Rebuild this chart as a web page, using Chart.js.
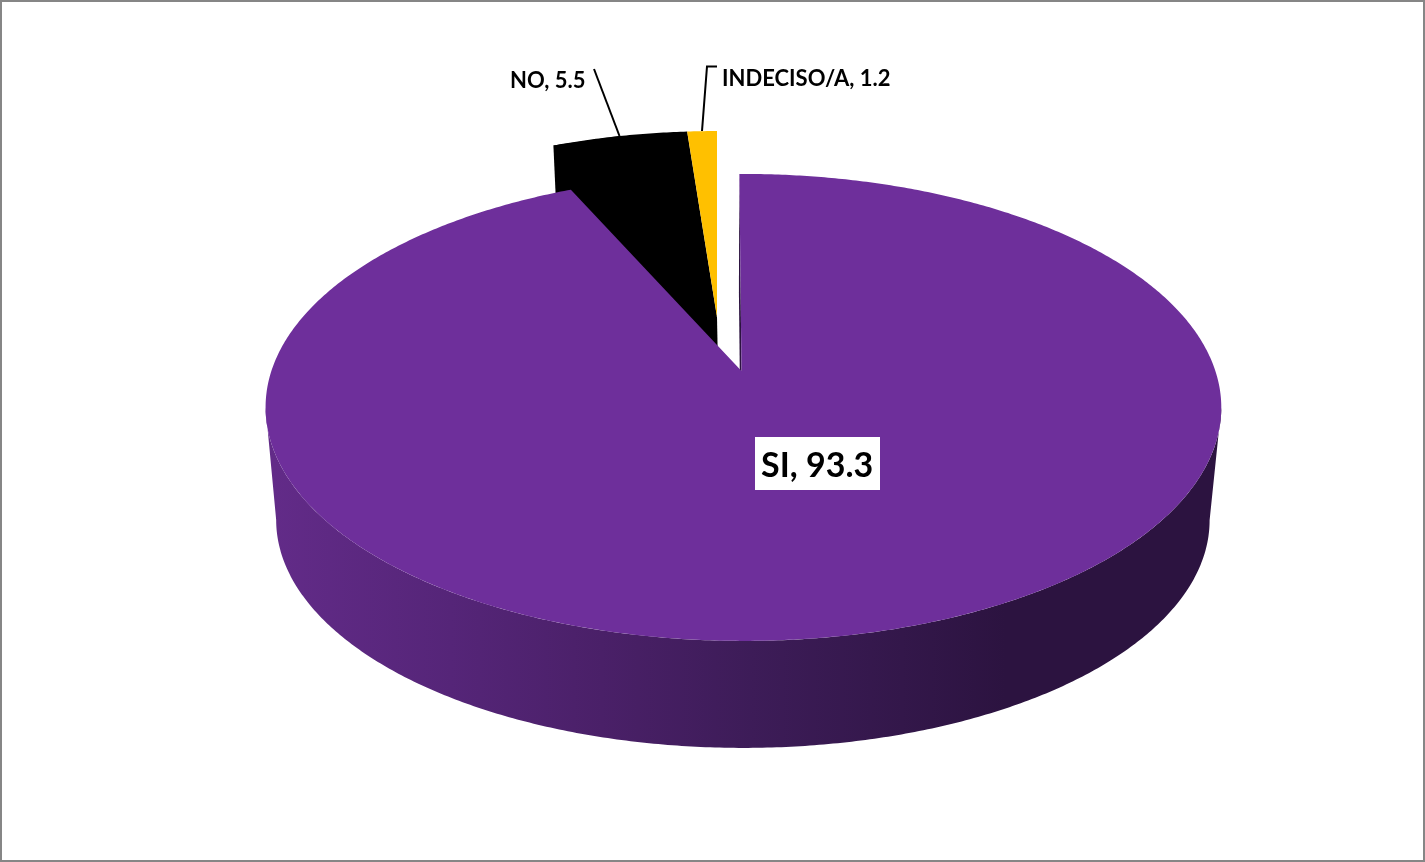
<!DOCTYPE html>
<html>
<head>
<meta charset="utf-8">
<title>SI / NO / INDECISO</title>
<script src="https://cdn.jsdelivr.net/npm/chart.js@4"></script>
<style>
  html, body { margin: 0; padding: 0; background: #fff; }
  canvas { display: block; }
</style>
</head>
<body>
<canvas id="myChart" width="1425" height="862"></canvas>
<script>
const categories = ['SI', 'NO', 'INDECISO/A'];
const percentages = [93.3, 5.5, 1.2];
const sliceColors = ['#6E2F9B', '#000000', '#FFC000'];

const rad = Math.PI / 180;
const tilt = 0.156; // perspective of the pie, near side is bigger
const lean = 0.004; // right side a touch closer than the left

// discs of the projected pie, x/y is where the apex lands
const topDisc = { x: 741.5, y: 371, a: 227.8, b: 472, rot: 0 };
const lowDisc = { x: 741, y: 484.5, a: 222.3, b: 461, rot: 0 };
const pulledTop = { x: 717, y: 317, a: 215, b: 458, rot: 0.3 * rad };
const pulledLow = { x: 719, y: 420, a: 210, b: 450, rot: 0.3 * rad };

function project(disc, angle) {
  const u = Math.cos(angle + disc.rot);
  const v = Math.sin(angle + disc.rot);
  const w = 1 - tilt * v - lean * u;
  return [disc.x + disc.b * u / w, disc.y + disc.a * v / w];
}

function rim(ctx, disc, from, to) {
  const steps = Math.max(2, Math.ceil(Math.abs(to - from) / (0.5 * rad)));
  for (let i = 0; i <= steps; i++) {
    const p = project(disc, from + (to - from) * i / steps);
    ctx.lineTo(p[0], p[1]);
  }
}

function wedge(ctx, disc, arc, color) {
  ctx.beginPath();
  ctx.moveTo(disc.x, disc.y);
  rim(ctx, disc, arc.startAngle, arc.endAngle);
  ctx.closePath();
  ctx.fillStyle = color;
  ctx.fill();
}

function polygon(ctx, pts, color) {
  ctx.beginPath();
  pts.forEach((p, i) => i ? ctx.lineTo(p[0], p[1]) : ctx.moveTo(p[0], p[1]));
  ctx.closePath();
  ctx.fillStyle = color;
  ctx.fill();
}

function leader(ctx, pts) {
  ctx.beginPath();
  pts.forEach((p, i) => i ? ctx.lineTo(p[0], p[1]) : ctx.moveTo(p[0], p[1]));
  ctx.strokeStyle = '#000';
  ctx.lineWidth = 2;
  ctx.stroke();
}

const pie3d = {
  id: 'pie3d',
  // the flat arcs are replaced, their angles still come from the pie controller
  beforeDatasetDraw(chart, args) {
    const ctx = chart.ctx;
    const arcs = chart.getDatasetMeta(args.index).data;
    const colors = chart.data.datasets[args.index].backgroundColor;
    const si = arcs[0], no = arcs[1], ind = arcs[2];
    ctx.save();

    // pulled out slices, behind the big one
    // the wall overlaps the top face so no seam shows between them
    polygon(ctx, [
      project(pulledTop, no.startAngle),
      project(pulledLow, no.startAngle),
      [pulledLow.x, pulledLow.y],
      [pulledTop.x, pulledTop.y],
      project(pulledTop, (no.startAngle + no.endAngle) / 2)
    ], colors[1]);
    wedge(ctx, pulledTop, no, colors[1]);
    wedge(ctx, pulledTop, ind, colors[2]);

    // side wall of the big slice
    const t0 = Math.asin(tilt);
    const grad = ctx.createLinearGradient(273, 0, 1212, 0);
    grad.addColorStop(0, '#622B88');
    grad.addColorStop(0.19, '#552578');
    grad.addColorStop(0.35, '#4A2068');
    grad.addColorStop(0.51, '#3D1C58');
    grad.addColorStop(0.67, '#33174A');
    grad.addColorStop(0.78, '#2C1340');
    grad.addColorStop(1, '#2C1340');
    ctx.beginPath();
    const s = project(topDisc, t0);
    ctx.moveTo(s[0], s[1]);
    rim(ctx, topDisc, t0, Math.PI - t0);
    rim(ctx, lowDisc, Math.PI - t0, t0);
    ctx.closePath();
    ctx.fillStyle = grad;
    ctx.fill();

    // thin cut face next to the white gap
    polygon(ctx, [
      project(topDisc, si.startAngle),
      [topDisc.x, topDisc.y],
      [lowDisc.x, lowDisc.y],
      project(lowDisc, si.startAngle)
    ], '#2C1340');

    wedge(ctx, topDisc, si, colors[0]);
    ctx.restore();
    return false;
  },
  afterDatasetsDraw(chart) {
    const ctx = chart.ctx;
    const values = chart.data.datasets[0].data;
    const text = i => categories[i] + ', ' + values[i].toFixed(1);
    ctx.save();

    leader(ctx, [[594, 69], [619.5, 136]]);
    leader(ctx, [[717, 66.5], [707, 66.5], [702, 131]]);

    ctx.fillStyle = '#fff';
    ctx.fillRect(755, 437, 125, 53);

    ctx.fillStyle = '#000';
    ctx.textBaseline = 'alphabetic';
    ctx.textAlign = 'left';
    ctx.font = '700 34px Lato';
    ctx.fillText(text(0), 761, 477);
    ctx.font = '700 22px Lato';
    ctx.fillText(text(1), 510, 88);
    ctx.fillText(text(2), 722, 86);

    // frame of the chart area
    ctx.strokeStyle = '#868686';
    ctx.lineWidth = 2;
    ctx.strokeRect(1, 1, 1423, 860);
    ctx.restore();
  }
};

new Chart(document.getElementById('myChart').getContext('2d'), {
  type: 'pie',
  data: {
    labels: categories,
    datasets: [{
      data: percentages,
      backgroundColor: sliceColors,
      borderWidth: 0
    }]
  },
  options: {
    responsive: false,
    animation: false,
    rotation: -0.3,
    layout: { padding: 0 },
    plugins: {
      legend: { display: false },
      tooltip: { enabled: false }
    }
  },
  plugins: [pie3d]
});
</script>
</body>
</html>
